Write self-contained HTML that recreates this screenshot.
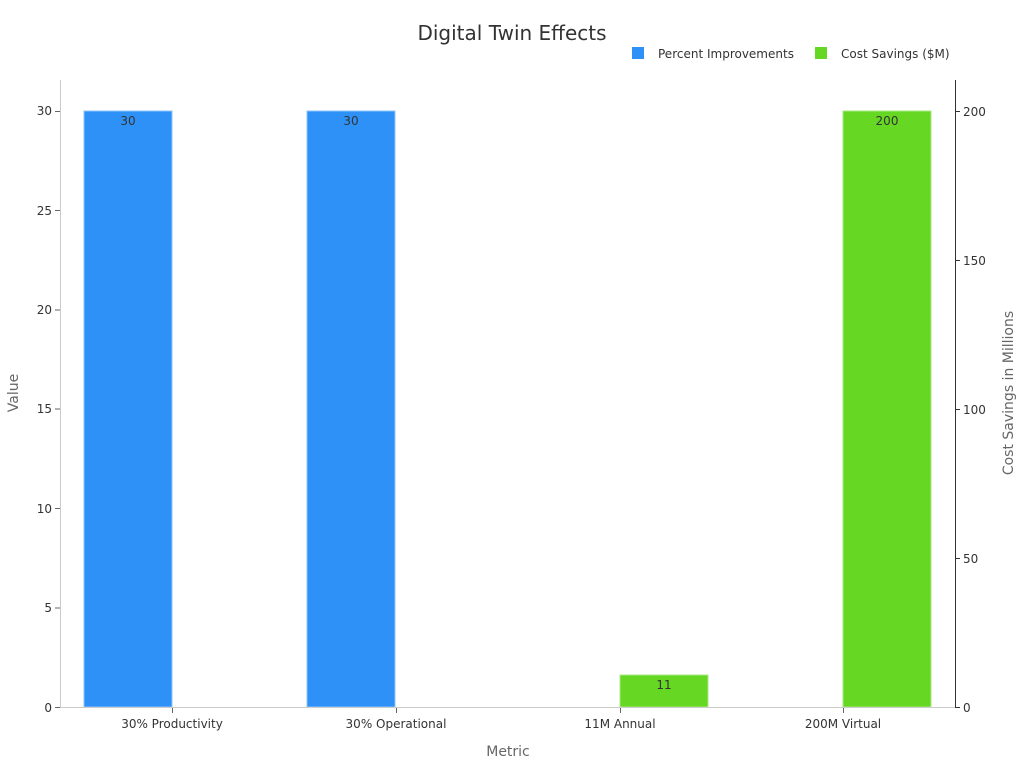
<!DOCTYPE html>
<html><head><meta charset="utf-8"><style>body{margin:0;background:#fff}svg{display:block}</style></head>
<body>
<svg width="1024" height="768" xmlns="http://www.w3.org/2000/svg" font-family="DejaVu Sans, Liberation Sans, sans-serif">
<rect width="1024" height="768" fill="#fff"/>
<text x="512" y="40" text-anchor="middle" font-size="20" fill="#333">Digital Twin Effects</text>
<rect x="632" y="47" width="12" height="12" fill="#2e91f8"/>
<text x="658" y="58" font-size="12" fill="#333">Percent Improvements</text>
<rect x="815" y="47" width="12" height="12" fill="#66d824"/>
<text x="841" y="58" font-size="12" fill="#333">Cost Savings ($M)</text>
<!-- bars -->
<g stroke-width="1">
<rect x="84" y="111" width="88" height="596" fill="#2e91f8" stroke="#8cc4fb"/>
<rect x="307" y="111" width="88" height="596" fill="#2e91f8" stroke="#8cc4fb"/>
<rect x="620" y="675" width="88" height="32" fill="#66d824" stroke="#a8e884"/>
<rect x="843" y="111" width="88" height="596" fill="#66d824" stroke="#a8e884"/>
</g>
<g font-size="12" fill="#333" text-anchor="middle">
<text x="128" y="125">30</text><text x="351" y="125">30</text>
<text x="664" y="689">11</text><text x="887" y="125">200</text>
</g>
<!-- axes -->
<line x1="60.5" y1="80" x2="60.5" y2="707.5" stroke="#ccc"/>
<line x1="60" y1="707.5" x2="955" y2="707.5" stroke="#ccc"/>
<line x1="955.5" y1="80" x2="955.5" y2="707.5" stroke="#333"/>
<g stroke="#666">
<line x1="55" x2="60" y1="707.5" y2="707.5"/><line x1="55" x2="60" y1="608" y2="608"/>
<line x1="55" x2="60" y1="508.5" y2="508.5"/><line x1="55" x2="60" y1="409" y2="409"/>
<line x1="55" x2="60" y1="310" y2="310"/><line x1="55" x2="60" y1="210.5" y2="210.5"/>
<line x1="55" x2="60" y1="111.5" y2="111.5"/>
<line x1="172.5" x2="172.5" y1="708" y2="713"/><line x1="396.5" x2="396.5" y1="708" y2="713"/>
<line x1="620.5" x2="620.5" y1="708" y2="713"/><line x1="843.5" x2="843.5" y1="708" y2="713"/>
</g>
<g stroke="#333">
<line x1="955" x2="960" y1="707.5" y2="707.5"/><line x1="955" x2="960" y1="558.5" y2="558.5"/>
<line x1="955" x2="960" y1="409.5" y2="409.5"/><line x1="955" x2="960" y1="260.5" y2="260.5"/>
<line x1="955" x2="960" y1="111.5" y2="111.5"/>
</g>
<g font-size="12" fill="#333" text-anchor="end">
<text x="52" y="712">0</text><text x="52" y="612">5</text><text x="52" y="513">10</text>
<text x="52" y="413">15</text><text x="52" y="314">20</text><text x="52" y="215">25</text><text x="52" y="115">30</text>
</g>
<g font-size="12" fill="#333">
<text x="963" y="712">0</text><text x="963" y="563">50</text><text x="963" y="414">100</text>
<text x="963" y="265">150</text><text x="963" y="116">200</text>
</g>
<g font-size="12" fill="#333" text-anchor="middle">
<text x="172" y="728">30% Productivity</text><text x="396" y="728">30% Operational</text>
<text x="620" y="728">11M Annual</text><text x="843" y="728">200M Virtual</text>
</g>
<text x="508" y="756" text-anchor="middle" font-size="14" fill="#666">Metric</text>
<text transform="translate(18,393) rotate(-90)" text-anchor="middle" font-size="14" fill="#666">Value</text>
<text transform="translate(1013,393) rotate(-90)" text-anchor="middle" font-size="14" fill="#666">Cost Savings in Millions</text>
</svg>
</body></html>
